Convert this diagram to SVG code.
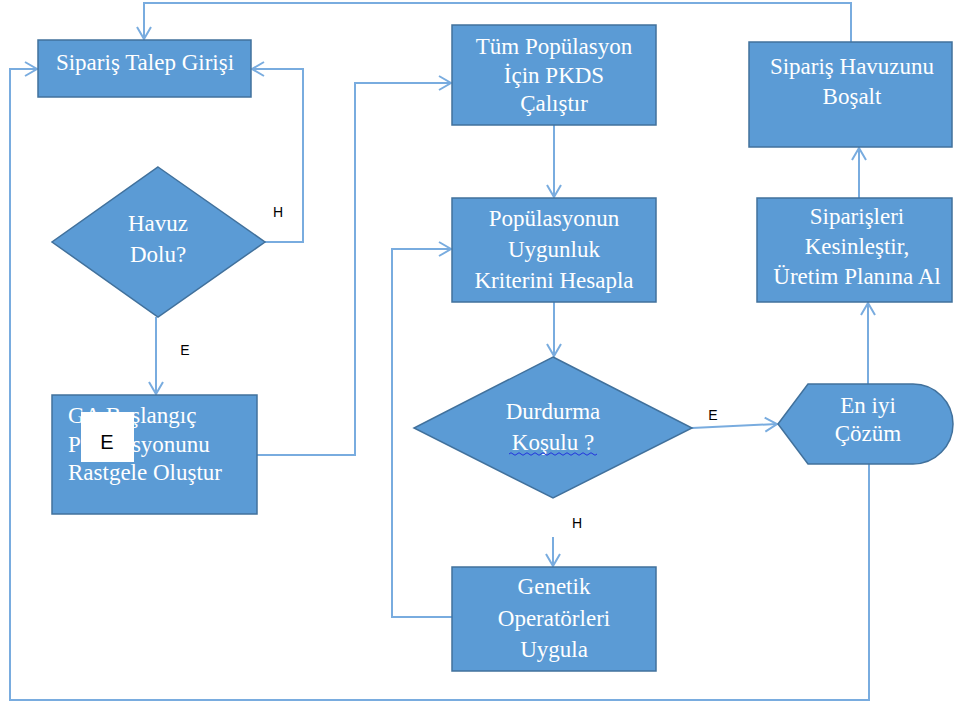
<svg xmlns="http://www.w3.org/2000/svg" width="954" height="704" viewBox="0 0 954 704">
<style>
.n{fill:#5B9BD5;stroke:#41719C;stroke-width:1.5}
.t{font-family:"Liberation Serif","Times New Roman",serif;font-size:23px;fill:#fff;text-anchor:middle}
.c{fill:none;stroke:#79ACDF;stroke-width:2}
.l{font-family:"Liberation Sans",Arial,sans-serif;font-size:14px;fill:#000;text-anchor:middle}
</style>
<defs>
<marker id="a" markerUnits="userSpaceOnUse" markerWidth="16" markerHeight="18" refX="13" refY="8" orient="auto" viewBox="0 0 16 16">
<path d="M1,1 L13,8 L1,15" fill="none" stroke="#79ACDF" stroke-width="2"/>
</marker>
</defs>
<rect width="954" height="704" fill="#fff"/>
<g id="connectors">
<path class="c" d="M851,42 V3 H144 V39" marker-end="url(#a)"/>
<path class="c" d="M265,242 H303 V69 H252" marker-end="url(#a)"/>
<path class="c" d="M869,464 V700 H10 V69 H37" marker-end="url(#a)"/>
<path class="c" d="M156,317 V394" marker-end="url(#a)"/>
<path class="c" d="M257,455 H355 V83 H451" marker-end="url(#a)"/>
<path class="c" d="M554,125 V197" marker-end="url(#a)"/>
<path class="c" d="M452,617 H392 V249 H451" marker-end="url(#a)"/>
<path class="c" d="M554,302 V356" marker-end="url(#a)"/>
<path class="c" d="M692,428 L777,424" marker-end="url(#a)"/>
<path class="c" d="M553,537 V566" marker-end="url(#a)"/>
<path class="c" d="M868,384 V303" marker-end="url(#a)"/>
<path class="c" d="M859,198 V148" marker-end="url(#a)"/>
<text class="l" x="278" y="217">H</text>
<text class="l" x="185" y="355">E</text>
<text class="l" x="713" y="420">E</text>
<text class="l" x="577" y="528">H</text>
</g>
<g id="siparis-talep">
<rect class="n" x="38" y="40" width="213" height="57"/>
<text class="t" x="145" y="70">Sipariş Talep Girişi</text>
</g>
<g id="havuz-dolu">
<polygon class="n" points="158,167 265,242 158,317 52,242"/>
<text class="t" x="158" y="231">Havuz</text>
<text class="t" x="158" y="262">Dolu?</text>
</g>
<g id="ga-baslangic">
<rect class="n" x="52" y="395" width="205" height="119"/>
<text class="t" x="68" y="423" style="text-anchor:start">GA Başlangıç</text>
<text class="t" x="68" y="452" style="text-anchor:start">Popülasyonunu</text>
<text class="t" x="68" y="480" style="text-anchor:start">Rastgele Oluştur</text>
<rect x="81" y="412" width="53" height="50" fill="#fff"/>
<text x="107" y="449" style="font-family:'Liberation Sans',Arial,sans-serif;font-size:20px;fill:#000;text-anchor:middle">E</text>
</g>
<g id="tum-populasyon">
<rect class="n" x="452" y="25" width="204" height="100"/>
<text class="t" x="554" y="54">Tüm Popülasyon</text>
<text class="t" x="554" y="83">İçin PKDS</text>
<text class="t" x="554" y="111">Çalıştır</text>
</g>
<g id="uygunluk">
<rect class="n" x="452" y="198" width="204" height="104"/>
<text class="t" x="554" y="226">Popülasyonun</text>
<text class="t" x="554" y="257">Uygunluk</text>
<text class="t" x="554" y="288">Kriterini Hesapla</text>
</g>
<g id="durdurma">
<polygon class="n" points="553,357 692,428 553,498 414,428"/>
<text class="t" x="553" y="419">Durdurma</text>
<text class="t" x="553" y="450">Koşulu ?</text>
<path d="M509,454 q2,-2.5 4,0 t4,0 t4,0 t4,0 t4,0 t4,0 t4,0 t4,0 t4,0 t4,0 t4,0 t4,0 t4,0 t4,0 t4,0 t4,0 t4,0 t4,0 t4,0 t4,0 t4,0 t4,0" fill="none" stroke="#2233DD" stroke-width="1"/>
</g>
<g id="genetik">
<rect class="n" x="452" y="567" width="204" height="104"/>
<text class="t" x="554" y="594">Genetik</text>
<text class="t" x="554" y="626">Operatörleri</text>
<text class="t" x="554" y="657">Uygula</text>
</g>
<g id="en-iyi">
<path class="n" d="M778,424 L808,384 H913 A40,40 0 0 1 913,464 H808 Z"/>
<text class="t" x="868" y="413">En iyi</text>
<text class="t" x="868" y="441">Çözüm</text>
</g>
<g id="siparisleri">
<rect class="n" x="757" y="198" width="195" height="104"/>
<text class="t" x="857" y="224">Siparişleri</text>
<text class="t" x="857" y="254">Kesinleştir,</text>
<text class="t" x="857" y="284">Üretim Planına Al</text>
</g>
<g id="havuz-bosalt">
<rect class="n" x="749" y="42" width="203" height="105"/>
<text class="t" x="852" y="74">Sipariş Havuzunu</text>
<text class="t" x="852" y="104">Boşalt</text>
</g>
</svg>
